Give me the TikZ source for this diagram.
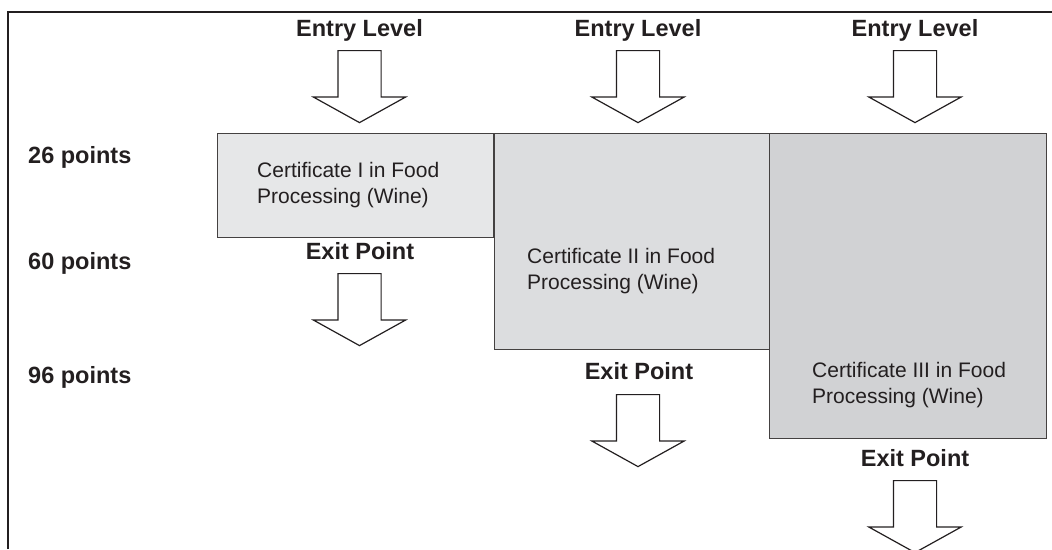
\documentclass[tikz,border=0pt]{standalone}
\usepackage{fontspec}
\setmainfont{Liberation Sans}
\usetikzlibrary{shapes.arrows}

\definecolor{certA}{HTML}{E6E7E8}
\definecolor{certB}{HTML}{DCDDDF}
\definecolor{certC}{HTML}{D1D2D4}
\definecolor{ink}{HTML}{231F20}

\tikzset{
  cert/.style={draw=ink!85, line width=1.3pt, anchor=north west, inner sep=0pt},
  certtext/.style={align=left, anchor=north west, inner sep=0pt, text=ink,
    font=\fontsize{21}{26}\selectfont},
  lbl/.style={text=ink, inner sep=0pt, font=\fontsize{23.5}{27}\selectfont\bfseries},
  blockarrow/.style={shape=single arrow, draw=ink, fill=white, line width=1.2pt,
    rotate=-90, anchor=tail, inner xsep=0pt, inner ysep=21pt, minimum height=72pt,
    single arrow head extend=24.5pt, single arrow tip angle=122}
}

\begin{document}
\begin{tikzpicture}[x=1pt, y=-1pt]
    \useasboundingbox (0,0) rectangle (1052,549);
    \draw[line width=2pt, ink] (8,549) -- (8,11.5) -- (1052,11.5);

    % the three certificates
    \node[cert, fill=certA, minimum width=276pt, minimum height=104pt] (c1) at (217,133) {};
    \node[cert, fill=certB, minimum width=275pt, minimum height=216pt] (c2) at (494,133) {};
    \node[cert, fill=certC, minimum width=277pt, minimum height=305pt] (c3) at (769,133) {};

    \node[certtext] (t1) at (257,162) {Certificate I in Food\\Processing (Wine)};
    \node[certtext] (t2) at (527,248) {Certificate II in Food\\Processing (Wine)};
    \node[certtext] (t3) at (812,362) {Certificate III in Food\\Processing (Wine)};

    % points
    \node[lbl, anchor=base west] (p26) at (28,163) {26 points};
    \node[lbl, anchor=base west] (p60) at (28,269) {60 points};
    \node[lbl, anchor=base west] (p96) at (28,383) {96 points};

    % entry levels
    \node[lbl, anchor=base] (in1) at (359.5,36) {Entry Level};
    \node[lbl, anchor=base] (in2) at (638,36) {Entry Level};
    \node[lbl, anchor=base] (in3) at (915,36) {Entry Level};
    \node[blockarrow] (ia1) at (359.5,50) {};
    \node[blockarrow] (ia2) at (638,50) {};
    \node[blockarrow] (ia3) at (915,50) {};

    % exit points
    \node[lbl, anchor=base] (out1) at (360,259) {Exit Point};
    \node[lbl, anchor=base] (out2) at (639,379) {Exit Point};
    \node[lbl, anchor=base] (out3) at (915,466) {Exit Point};
    \node[blockarrow] (oa1) at (359.5,273) {};
    \node[blockarrow] (oa2) at (638,394) {};
    \node[blockarrow] (oa3) at (915,480) {};
\end{tikzpicture}
\end{document}
